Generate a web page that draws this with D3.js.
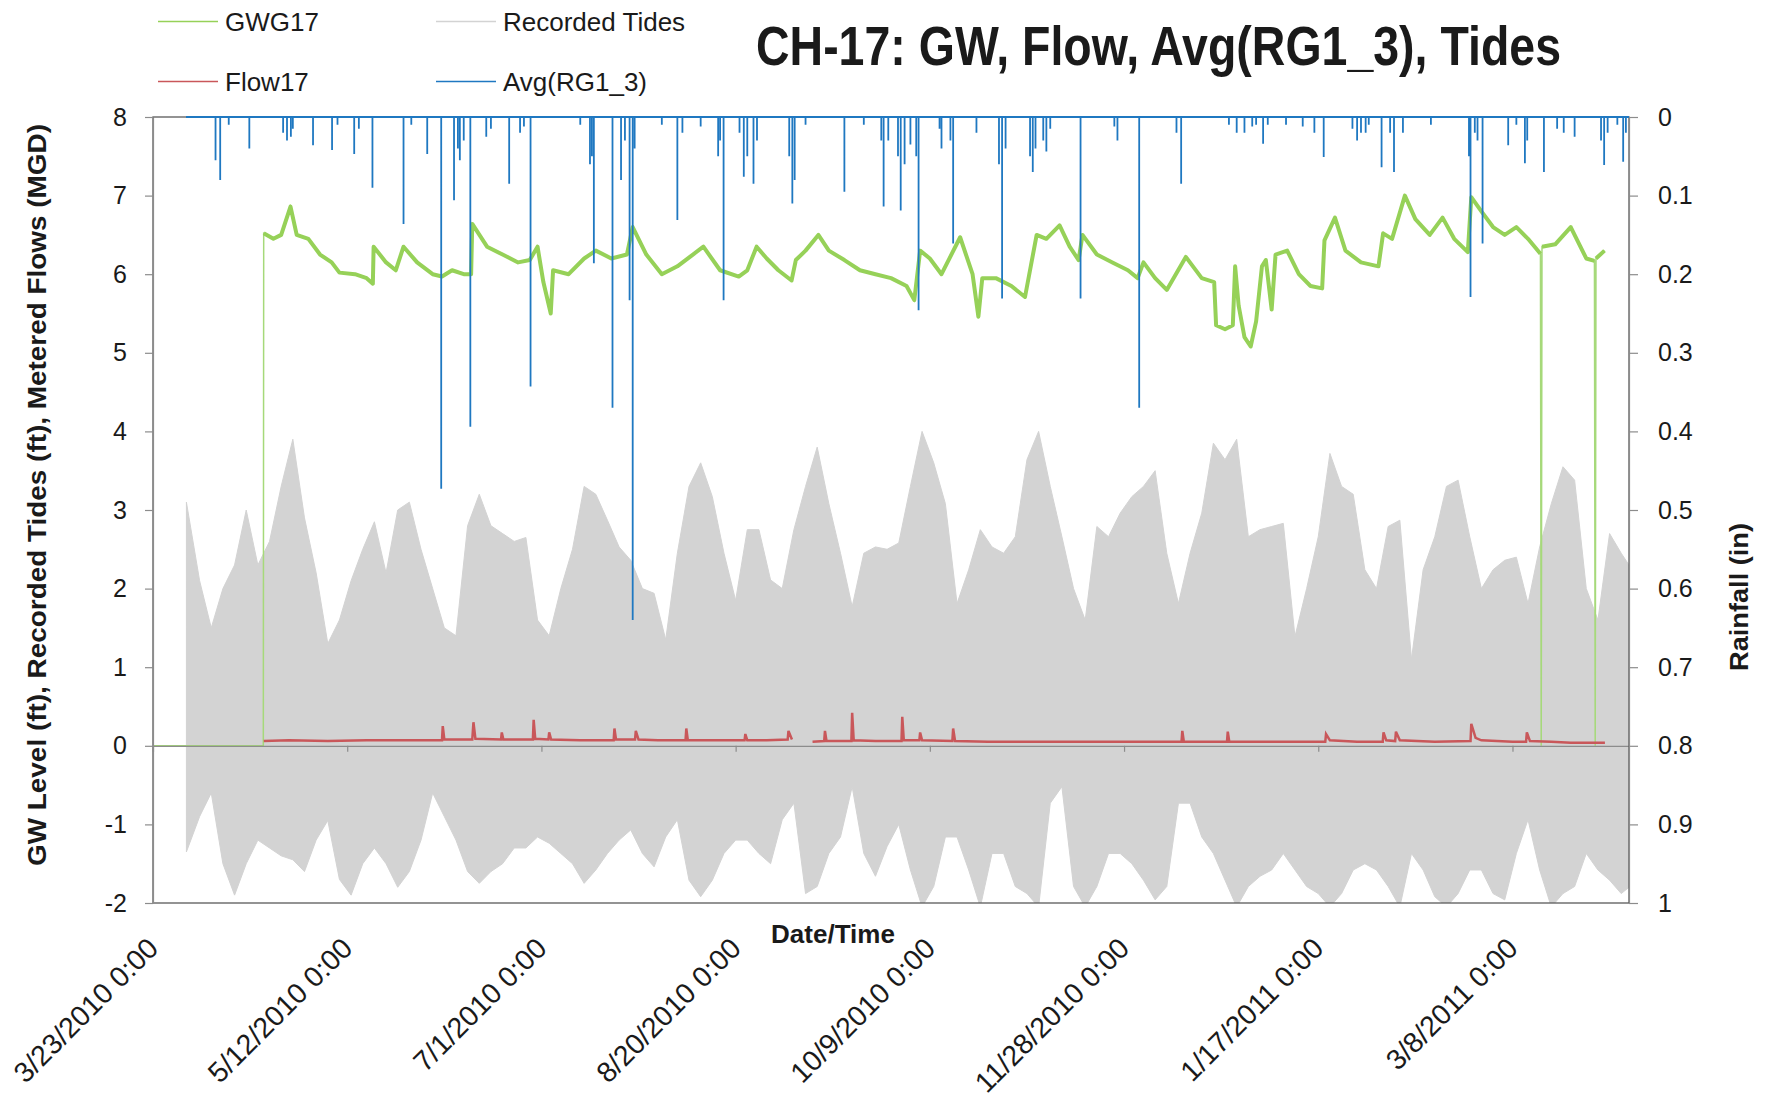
<!DOCTYPE html>
<html>
<head>
<meta charset="utf-8">
<script src="https://cdn.jsdelivr.net/npm/d3@7"></script>
<style>
  body { margin: 0; background: #fff; }
  text { font-family: "Liberation Sans", Arial, sans-serif; fill: #1a1a1a; }
</style>
</head>
<body>
<script>
// ---- data (days counted from 3/23/2010 0:00) ----
var xTickLabels = ["3/23/2010 0:00", "5/12/2010 0:00", "7/1/2010 0:00", "8/20/2010 0:00",
  "10/9/2010 0:00", "11/28/2010 0:00", "1/17/2011 0:00", "3/8/2011 0:00"];
var leftTicks = [-2, -1, 0, 1, 2, 3, 4, 5, 6, 7, 8];
var rightTicks = ["0", "0.1", "0.2", "0.3", "0.4", "0.5", "0.6", "0.7", "0.8", "0.9", "1"];

// Recorded Tides: high / low envelope
var tideDays = [8.6, 12, 15, 18, 21, 24, 27, 30, 33, 36,
  39, 42, 45, 48, 51, 54, 57, 60, 63, 66,
  69, 72, 75, 78, 81, 84, 87, 90, 93, 96,
  99, 102, 105, 108, 111, 114, 117, 120, 123, 126,
  129, 132, 135, 138, 141, 144, 147, 150, 153, 156,
  159, 162, 165, 168, 171, 174, 177, 180, 183, 186,
  189, 192, 195, 198, 201, 204, 207, 210, 213, 216,
  219, 222, 225, 228, 231, 234, 237, 240, 243, 246,
  249, 252, 255, 258, 261, 264, 267, 270, 273, 276,
  279, 282, 285, 288, 291, 294, 297, 300, 303, 306,
  309, 312, 315, 318, 321, 324, 327, 330, 333, 336,
  339, 342, 345, 348, 351, 354, 357, 360, 363, 366,
  369, 372, 375, 378, 380];
var tideHigh = [3.1, 2.1, 1.5, 2.0, 2.3, 3.0, 2.3, 2.6, 3.3, 3.9,
  2.9, 2.2, 1.3, 1.6, 2.1, 2.5, 2.85, 2.2, 3.0, 3.1,
  2.5, 2.0, 1.5, 1.4, 2.8, 3.2, 2.8, 2.7, 2.6, 2.65,
  1.6, 1.4, 2.0, 2.5, 3.3, 3.2, 2.87, 2.53, 2.36, 2.0,
  1.94, 1.35, 2.45, 3.3, 3.6, 3.17, 2.45, 1.85, 2.75, 2.75,
  2.11, 2.0, 2.75, 3.3, 3.8, 3.08, 2.45, 1.77, 2.45, 2.53,
  2.5, 2.58, 3.3, 4.0, 3.6, 3.08, 1.81, 2.24, 2.75, 2.53,
  2.45, 2.66, 3.64, 4.0, 3.3, 2.66, 2.0, 1.6, 2.79, 2.66,
  2.96, 3.17, 3.3, 3.5, 2.45, 1.81, 2.45, 2.96, 3.85, 3.64,
  3.9, 2.66, 2.75, 2.79, 2.83, 1.39, 2.0, 2.66, 3.72, 3.3,
  3.2, 2.24, 2.0, 2.79, 2.87, 1.1, 2.24, 2.66, 3.3, 3.38,
  2.66, 2.0, 2.24, 2.36, 2.4, 1.81, 2.53, 3.08, 3.55, 3.38,
  2.0, 1.6, 2.7, 2.45, 2.3];
var tideLow = [-1.35, -0.9, -0.6, -1.5, -1.9, -1.5, -1.2, -1.3, -1.4, -1.45,
  -1.6, -1.2, -0.95, -1.7, -1.9, -1.5, -1.3, -1.5, -1.8, -1.6,
  -1.2, -0.6, -0.9, -1.2, -1.6, -1.75, -1.6, -1.5, -1.3, -1.3,
  -1.16, -1.24, -1.37, -1.5, -1.75, -1.58, -1.37, -1.2, -1.07, -1.37,
  -1.54, -1.16, -0.94, -1.71, -1.92, -1.71, -1.37, -1.2, -1.2, -1.37,
  -1.5, -0.94, -0.73, -1.88, -1.79, -1.37, -1.16, -0.52, -1.37, -1.66,
  -1.28, -1.0, -1.58, -2.05, -1.79, -1.16, -1.16, -1.58, -2.05, -1.37,
  -1.37, -1.79, -1.88, -2.05, -0.73, -0.52, -1.79, -2.05, -1.79, -1.37,
  -1.37, -1.5, -1.71, -1.96, -1.79, -0.73, -0.73, -1.16, -1.37, -1.71,
  -2.05, -1.79, -1.66, -1.58, -1.37, -1.58, -1.79, -1.88, -2.05, -1.88,
  -1.58, -1.5, -1.58, -1.79, -2.05, -1.37, -1.58, -1.92, -2.05, -1.88,
  -1.58, -1.58, -1.88, -1.96, -1.37, -0.94, -1.58, -2.05, -1.88, -1.79,
  -1.37, -1.58, -1.71, -1.88, -1.8];

// GWG17 groundwater level (ft)
var gwDays = [0, 28.4, 28.5, 31, 33, 35.4, 37, 40, 43, 46, 48, 52, 55, 56.6, 56.8, 60, 62.5, 64.5, 68, 72,
  74.4, 77, 80, 81.9, 82.2, 86, 90, 94, 97, 99, 100.5, 102.4, 103, 107, 111, 114, 118, 122, 123.5, 127,
  131, 135, 139, 141.7, 146, 150.8, 153, 155.4, 158, 161, 164.4, 165.5, 168, 171.3, 174, 178, 182, 186, 190, 194,
  196, 197.5, 200, 203, 207.8, 211, 212.5, 213.5, 217, 221, 224.5, 227.5, 230, 233.4, 236, 238.3, 239.3, 243, 247, 251,
  253.5, 255, 258, 261, 265.9, 270, 273.2, 273.7, 276, 278, 278.6, 279.5, 281, 282.6, 284, 285.5, 286.5, 288, 289, 292,
  295, 298, 301, 301.6, 304.3, 307, 311, 315.5, 316.7, 319, 322.3, 325, 328.7, 332, 335, 338.5, 339.4, 342, 345, 348,
  351, 354, 357.2, 357.4, 357.6, 361, 365, 369, 371.1, 371.3, 371.5, 373.7];
var gwVals = [0, 0, 6.52, 6.45, 6.5, 6.86, 6.5, 6.45, 6.25, 6.15, 6.02, 6.0, 5.95, 5.88, 6.35, 6.15, 6.05, 6.35, 6.15, 6.0,
  5.97, 6.05, 6.0, 6.0, 6.64, 6.35, 6.25, 6.15, 6.18, 6.35, 5.9, 5.5, 6.05, 6.0, 6.2, 6.3, 6.2, 6.25, 6.6, 6.25,
  6.0, 6.1, 6.25, 6.35, 6.05, 5.97, 6.05, 6.35, 6.2, 6.05, 5.92, 6.18, 6.3, 6.5, 6.3, 6.18, 6.05, 6.0, 5.95, 5.85,
  5.67, 6.3, 6.2, 6.0, 6.47, 6.0, 5.46, 5.95, 5.95, 5.85, 5.71, 6.5, 6.45, 6.62, 6.35, 6.18, 6.5, 6.25, 6.15, 6.05,
  5.95, 6.15, 5.95, 5.8, 6.22, 5.95, 5.9, 5.35, 5.3, 5.35, 6.1, 5.6, 5.2, 5.08, 5.4, 6.1, 6.18, 5.55, 6.25, 6.3,
  6.0, 5.85, 5.82, 6.43, 6.72, 6.3, 6.15, 6.1, 6.52, 6.45, 7.0, 6.7, 6.5, 6.72, 6.45, 6.28, 6.98, 6.8, 6.6, 6.5,
  6.6, 6.45, 6.26, 0, 6.35, 6.38, 6.6, 6.2, 6.17, 0, 6.2, 6.3];

// Flow17 metered flow (MGD); null = missing data
var flowDays = [28.5, 35, 45, 55, 65, 72, 74.4, 74.6, 75, 82.2, 82.5, 83, 89.6, 89.8, 90.2, 97.8, 98, 98.4, 101.8, 102,
  102.5, 110, 118.6, 118.8, 119.2, 124.1, 124.3, 125, 130, 137.1, 137.3, 137.7, 145, 152.3, 152.5, 153, 158, 163.4, 163.6, 164.5,
  166, 169.8, 172.8, 173, 173.4, 179.8, 180, 180.4, 186, 192.7, 192.9, 193.3, 197.3, 197.5, 198, 205.8, 206, 206.5, 215, 225,
  235, 245, 255, 264.8, 265, 265.4, 276.5, 276.7, 277.1, 285, 295, 301.8, 302, 303, 310, 316.6, 316.8, 317.5, 319.8, 320,
  321, 330, 339.2, 339.4, 340.5, 342, 350, 353.5, 353.7, 354.5, 360, 365, 373.8];
var flowVals = [0.06, 0.07, 0.06, 0.07, 0.07, 0.07, 0.07, 0.25, 0.08, 0.08, 0.30, 0.09, 0.08, 0.17, 0.08, 0.08, 0.33, 0.09, 0.08, 0.17,
  0.08, 0.07, 0.07, 0.22, 0.08, 0.08, 0.19, 0.08, 0.07, 0.07, 0.22, 0.07, 0.07, 0.07, 0.15, 0.07, 0.07, 0.08, 0.19, 0.08,
  null, 0.05, 0.06, 0.19, 0.06, 0.06, 0.42, 0.07, 0.06, 0.06, 0.37, 0.07, 0.07, 0.17, 0.07, 0.06, 0.22, 0.06, 0.05, 0.05,
  0.05, 0.05, 0.05, 0.05, 0.19, 0.05, 0.05, 0.18, 0.05, 0.05, 0.05, 0.05, 0.15, 0.07, 0.05, 0.05, 0.17, 0.07, 0.06, 0.18,
  0.07, 0.05, 0.06, 0.28, 0.10, 0.07, 0.05, 0.05, 0.17, 0.06, 0.05, 0.04, 0.04];

// Avg(RG1_3) rainfall (in), secondary axis
var rainStartDay = 8.5, rainEndDay = 380;
var rainDays = [16.1, 17.3, 19.5, 24.8, 33.5, 34.5, 35.5, 36, 41.2, 46.1, 47.5, 51.8, 53, 56.5, 64.5, 66.5, 70.6, 74.2, 77.5, 78.5,
  79, 80, 81.7, 85.8, 87, 91.7, 94.5, 95.5, 97.2, 110, 112.5, 113, 113.5, 118.3, 120.5, 121.5, 122.7, 123.5, 124, 131,
  135, 136.3, 141, 145.5, 146, 146.9, 151, 152.1, 153, 154.6, 155.5, 163.8, 164.6, 165.2, 168, 178, 183, 187.5, 188.1, 189.3,
  191.8, 192.5, 193.5, 195, 196.5, 197.1, 202.5, 203, 205.3, 206, 212, 217.8, 218.6, 219.5, 225.8, 226.5, 227.2, 229.2, 230, 231,
  238.8, 247.5, 248.3, 253.9, 263.5, 264.7, 277, 279, 281, 283, 284, 285.8, 287, 291.7, 296, 299, 301.4, 308.8, 310, 311,
  312.2, 313, 316.3, 318.5, 319.5, 321.8, 329, 338.8, 339.2, 340.3, 341, 342.3, 348.9, 351, 353.2, 353.8, 358.1, 361.5, 363.2, 366,
  372.8, 373.6, 374.5, 377, 378.5, 379.2];
var rainVals = [0.055, 0.08, 0.01, 0.04, 0.02, 0.03, 0.025, 0.015, 0.036, 0.042, 0.01, 0.047, 0.015, 0.09, 0.136, 0.01, 0.047, 0.473, 0.106, 0.04,
  0.055, 0.03, 0.394, 0.025, 0.015, 0.085, 0.02, 0.012, 0.343, 0.01, 0.06, 0.05, 0.186, 0.37, 0.08, 0.03, 0.233, 0.64, 0.04, 0.01,
  0.131, 0.02, 0.012, 0.05, 0.03, 0.233, 0.02, 0.076, 0.05, 0.085, 0.03, 0.05, 0.11, 0.08, 0.01, 0.095, 0.01, 0.03, 0.114, 0.03,
  0.05, 0.119, 0.06, 0.035, 0.05, 0.246, 0.015, 0.04, 0.03, 0.161, 0.02, 0.06, 0.231, 0.04, 0.05, 0.07, 0.04, 0.03, 0.044, 0.015,
  0.231, 0.012, 0.03, 0.37, 0.02, 0.085, 0.01, 0.02, 0.02, 0.012, 0.01, 0.034, 0.01, 0.01, 0.012, 0.02, 0.051, 0.015, 0.03, 0.02,
  0.02, 0.01, 0.064, 0.02, 0.07, 0.02, 0.01, 0.05, 0.229, 0.02, 0.03, 0.161, 0.036, 0.01, 0.059, 0.03, 0.07, 0.015, 0.02, 0.025,
  0.03, 0.061, 0.02, 0.01, 0.057, 0.02];

// ---- layout ----
var svgWidth = 1774, svgHeight = 1101;
var plot = { left: 153, right: 1629, top: 117, bottom: 903 };

var svg = d3.select("body").append("svg")
  .attr("width", svgWidth)
  .attr("height", svgHeight);

var start = Date.UTC(2010, 2, 23);
function dayToDate(d) { return new Date(start + d * 864e5); }
var parseTick = d3.utcParse("%m/%d/%Y %H:%M");

var xScale = d3.scaleUtc()
  .domain([dayToDate(0), dayToDate(380)])
  .range([plot.left, plot.right]);
var yLeft = d3.scaleLinear().domain([-2, 8]).range([plot.bottom, plot.top]);
var yRight = d3.scaleLinear().domain([0, 1]).range([plot.top, plot.bottom]);

svg.append("clipPath").attr("id", "plotClip")
  .append("rect")
  .attr("x", plot.left).attr("y", plot.top)
  .attr("width", plot.right - plot.left).attr("height", plot.bottom - plot.top);

var series = svg.append("g").attr("clip-path", "url(#plotClip)");

// tides as a filled band between the low and high envelope
var tideData = tideDays.map((d, i) => ({ date: dayToDate(d), hi: tideHigh[i], lo: tideLow[i] }));
series.append("path")
  .datum(tideData)
  .attr("fill", "#d3d3d3")
  .attr("stroke", "#d3d3d3")
  .attr("stroke-width", 1)
  .attr("d", d3.area()
    .x(d => xScale(d.date))
    .y0(d => yLeft(d.lo))
    .y1(d => yLeft(d.hi)));

// category axis sits at 0
var zeroAxis = svg.append("g")
  .attr("transform", `translate(0,${yLeft(0)})`)
  .call(d3.axisBottom(xScale)
    .tickValues(xTickLabels.map(parseTick))
    .tickSize(6).tickSizeOuter(0)
    .tickFormat(""));
zeroAxis.selectAll("path, line").attr("stroke", "#8c8c8c").attr("stroke-width", 1.2);

// GW: thin full trace (incl. the zero readings) + thick band where the logger reads
var gwData = gwDays.map((d, i) => ({ date: dayToDate(d), v: gwVals[i] }));
var gwLine = d3.line().x(d => xScale(d.date)).y(d => yLeft(d.v));
series.append("path")
  .datum(gwData)
  .attr("fill", "none")
  .attr("stroke", "#a6d97a")
  .attr("stroke-width", 1.5)
  .attr("d", gwLine);
series.append("path")
  .datum(gwData)
  .attr("fill", "none")
  .attr("stroke", "#96d158")
  .attr("stroke-width", 4)
  .attr("stroke-linejoin", "round")
  .attr("d", gwLine.defined(d => d.v > 0));

// Flow
var flowData = flowDays.map((d, i) => ({ date: dayToDate(d), v: flowVals[i] }));
series.append("path")
  .datum(flowData)
  .attr("fill", "none")
  .attr("stroke", "#c9575a")
  .attr("stroke-width", 2.5)
  .attr("d", d3.line()
    .defined(d => d.v !== null)
    .x(d => xScale(d.date))
    .y(d => yLeft(d.v)));

// Rainfall hanging down from the top (reversed secondary axis)
var rainPts = [{ date: dayToDate(rainStartDay), v: 0 }];
rainDays.forEach(function(d, i) {
  rainPts.push({ date: dayToDate(d), v: 0 });
  rainPts.push({ date: dayToDate(d), v: rainVals[i] });
  rainPts.push({ date: dayToDate(d), v: 0 });
});
rainPts.push({ date: dayToDate(rainEndDay), v: 0 });
series.append("path")
  .datum(rainPts)
  .attr("fill", "none")
  .attr("stroke", "#1f78c1")
  .attr("stroke-width", 1.8)
  .attr("d", d3.line().x(d => xScale(d.date)).y(d => yRight(d.v)));

// plot frame
svg.append("rect")
  .attr("x", plot.left).attr("y", plot.top)
  .attr("width", plot.right - plot.left).attr("height", plot.bottom - plot.top)
  .attr("fill", "none")
  .attr("stroke", "#5a5a5a")
  .attr("stroke-width", 1.3);
// redraw the rain baseline over the top border
svg.append("line")
  .attr("x1", xScale(dayToDate(rainStartDay))).attr("x2", xScale(dayToDate(rainEndDay)))
  .attr("y1", yRight(0)).attr("y2", yRight(0))
  .attr("stroke", "#1f78c1").attr("stroke-width", 2);

// left axis
var leftAxis = svg.append("g")
  .attr("transform", `translate(${plot.left},0)`)
  .call(d3.axisLeft(yLeft).tickValues(leftTicks).tickSize(8).tickSizeOuter(0).tickPadding(18)
    .tickFormat(d => String(d)));
leftAxis.selectAll("path, line").attr("stroke", "#8c8c8c").attr("stroke-width", 1.2);
leftAxis.selectAll("text").style("font-size", "25px").attr("fill", "#1a1a1a");

// right axis
var rightAxis = svg.append("g")
  .attr("transform", `translate(${plot.right},0)`)
  .call(d3.axisRight(yRight).tickValues(rightTicks.map(Number)).tickSize(9).tickSizeOuter(0).tickPadding(20)
    .tickFormat((d, i) => rightTicks[i]));
rightAxis.selectAll("path, line").attr("stroke", "#8c8c8c").attr("stroke-width", 1.2);
rightAxis.selectAll("text").style("font-size", "25px").attr("fill", "#1a1a1a");

// date labels along the bottom
svg.append("g").selectAll("text")
  .data(xTickLabels)
  .enter()
  .append("text")
  .attr("transform", d => `translate(${xScale(parseTick(d)) + 7},950) rotate(-45)`)
  .attr("text-anchor", "end")
  .style("font-size", "28.5px")
  .text(d => d);

// axis titles
svg.append("text")
  .attr("x", 833).attr("y", 943)
  .attr("text-anchor", "middle")
  .style("font-size", "26px").style("font-weight", "bold")
  .text("Date/Time");

svg.append("text")
  .attr("transform", "translate(46,495) rotate(-90)")
  .attr("text-anchor", "middle")
  .attr("textLength", 742).attr("lengthAdjust", "spacingAndGlyphs")
  .style("font-size", "25px").style("font-weight", "bold")
  .text("GW Level (ft), Recorded Tides (ft), Metered Flows (MGD)");

svg.append("text")
  .attr("transform", "translate(1748,597) rotate(-90)")
  .attr("text-anchor", "middle")
  .attr("textLength", 148).attr("lengthAdjust", "spacingAndGlyphs")
  .style("font-size", "25px").style("font-weight", "bold")
  .text("Rainfall (in)");

// title
svg.append("text")
  .attr("x", 756).attr("y", 65)
  .attr("textLength", 805).attr("lengthAdjust", "spacingAndGlyphs")
  .style("font-size", "55px").style("font-weight", "bold")
  .attr("fill", "#000")
  .text("CH-17: GW, Flow, Avg(RG1_3), Tides");

// legend
var legendItems = [
  { name: "GWG17", color: "#96d158", x: 158, y: 21.5 },
  { name: "Recorded Tides", color: "#d3d3d3", x: 436, y: 21.5 },
  { name: "Flow17", color: "#c9575a", x: 158, y: 81.5 },
  { name: "Avg(RG1_3)", color: "#1f78c1", x: 436, y: 81.5 }
];
var legend = svg.append("g");
legendItems.forEach(function(item) {
  legend.append("line")
    .attr("x1", item.x).attr("x2", item.x + 60)
    .attr("y1", item.y).attr("y2", item.y)
    .attr("stroke", item.color).attr("stroke-width", 1.5);
  legend.append("text")
    .attr("x", item.x + 67).attr("y", item.y + 9)
    .style("font-size", "26px")
    .attr("fill", "#262626")
    .text(item.name);
});
</script>
</body>
</html>
